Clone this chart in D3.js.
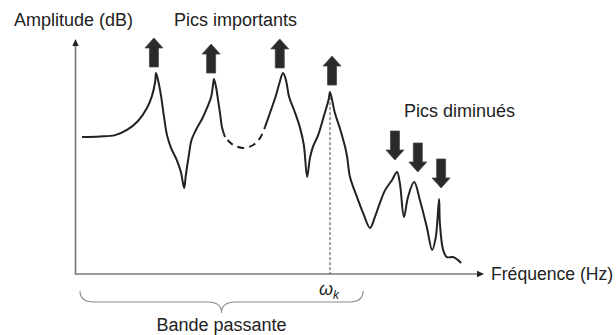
<!DOCTYPE html>
<html>
<head>
<meta charset="utf-8">
<script src="https://cdn.jsdelivr.net/npm/d3@7"></script>
<style>
  html, body { margin: 0; padding: 0; background: #fff; }
  svg { display: block; }
  text { font-family: "Liberation Sans", Arial, sans-serif; fill: #222; }
</style>
</head>
<body>
<svg id="chart" width="616" height="335"></svg>
<script>
// ---- data (frequency units 0..100, amplitude units 0..100) ----
const seg1Freq = [1.6, 6.0, 9.7, 12.6, 15.3, 17.5, 18.7, 19.5, 19.7, 20.2, 20.9, 21.6, 22.4, 23.4, 24.8, 25.8, 26.6, 27.0, 27.7, 28.4, 29.6, 31.1, 32.3, 33.2, 33.7, 33.9, 34.4, 34.9, 35.4, 35.9, 36.6];
const seg1Amp  = [58.3, 58.5, 59.1, 61.3, 65.1, 70.6, 75.7, 81.7, 85.5, 82.6, 76.2, 67.7, 59.1, 53.6, 48.5, 43.4, 36.6, 42.0, 50.0, 57.0, 61.7, 66.4, 71.1, 75.3, 80.9, 83.0, 79.6, 74.0, 68.1, 62.1, 58.3];

const dashFreq = [36.6, 38.3, 41.0, 43.5, 45.2, 46.4];
const dashAmp  = [58.3, 55.3, 53.6, 54.9, 57.9, 62.6];

const seg2Freq = [46.4, 47.6, 49.1, 50.0, 50.8, 51.5, 52.3, 53.5, 54.9, 55.9, 56.7, 57.4, 58.1, 59.4, 60.8, 62.0, 62.3, 63.5, 64.7, 66.0, 66.5, 67.2, 68.9, 70.4, 72.1, 73.3, 74.5, 75.8, 77.5, 78.7, 79.4, 80.4, 81.4, 82.9, 84.3, 86.0, 87.3, 88.2, 89.0, 89.2, 90.0, 90.9, 92.4, 93.6, 94.4];
const seg2Amp  = [62.6, 68.5, 76.2, 81.7, 85.5, 82.6, 75.3, 69.8, 62.6, 54.9, 41.3, 49.4, 54.0, 59.1, 67.2, 74.5, 77.4, 68.5, 62.1, 54.0, 49.8, 41.3, 32.8, 26.0, 19.6, 24.3, 30.2, 35.7, 40.0, 43.4, 38.7, 24.3, 32.8, 39.1, 31.5, 20.0, 10.2, 15.7, 31.9, 21.7, 10.2, 7.2, 7.2, 6.0, 4.7];

// arrows: centre frequency, amplitude of the end nearest the peak, direction
const upArrowFreq = [19.2, 33.2, 50.0, 62.8];
const upArrowAmp  = [88.1, 85.5, 87.7, 80.4];
const downArrowFreq = [78.2, 83.8, 89.5];
const downArrowAmp  = [48.5, 43.4, 36.6];

const omegaK = 62.3;          // frequency of the marked peak
const omegaKAmp = 77.4;
const bandStart = 1.1, bandEnd = 70.4;

const labels = {
  yTitle: "Amplitude (dB)",
  xTitle: "Fréquence (Hz)",
  upNote: "Pics importants",
  downNote: "Pics diminués",
  band: "Bande passante"
};

// ---- drawing ----
const svg = d3.select("#chart");
const x = d3.scaleLinear().domain([0, 100]).range([75.5, 484]);
const y = d3.scaleLinear().domain([0, 100]).range([274, 39]);

const line = d3.line()
  .x(d => x(d[0])).y(d => y(d[1]))
  .curve(d3.curveCatmullRom.alpha(0.5));

const zip = (a, b) => a.map((v, i) => [v, b[i]]);

// axes
const axisColor = "#7a7a7a";
svg.append("line").attr("x1", x(0)).attr("x2", x(100) - 5)
  .attr("y1", y(0)).attr("y2", y(0))
  .attr("stroke", axisColor).attr("stroke-width", 1.7);
svg.append("line").attr("x1", x(0)).attr("x2", x(0))
  .attr("y1", y(0) + 0.8).attr("y2", y(100) + 5)
  .attr("stroke", axisColor).attr("stroke-width", 1.7);
// axis arrowheads
svg.append("path")
  .attr("d", `M${x(100)},${y(0)} L${x(100) - 7},${y(0) - 3.2} L${x(100) - 7},${y(0) + 3.2} Z`)
  .attr("fill", "#222");
svg.append("path")
  .attr("d", `M${x(0)},${y(100)} L${x(0) - 3.2},${y(100) + 7} L${x(0) + 3.2},${y(100) + 7} Z`)
  .attr("fill", "#222");

// omega_k dashed line
svg.append("line")
  .attr("x1", x(omegaK)).attr("x2", x(omegaK))
  .attr("y1", y(omegaKAmp)).attr("y2", y(0))
  .attr("stroke", "#333").attr("stroke-width", 0.9)
  .attr("stroke-dasharray", "3,2");

// curve
const curveStyle = sel => sel.attr("fill", "none").attr("stroke", "#222")
  .attr("stroke-width", 2).attr("stroke-linejoin", "round").attr("stroke-linecap", "butt");
svg.append("path").datum(zip(seg1Freq, seg1Amp)).attr("d", line).call(curveStyle);
svg.append("path").datum(zip(seg2Freq, seg2Amp)).attr("d", line).call(curveStyle);
svg.append("path").datum(zip(dashFreq, dashAmp)).attr("d", line).call(curveStyle)
  .attr("stroke-dasharray", "7,5").attr("stroke-dashoffset", -4);

// block arrows
const arrowLen = 29, headH = 10, headW = 18, shaftW = 9;
function blockArrow(cx, endY, dir) {
  // dir = -1 : up arrow whose base is at endY ; dir = +1 : down arrow whose tip is at endY
  const hw = headW / 2, sw = shaftW / 2;
  if (dir < 0) {
    const b = endY, t = endY - arrowLen, hb = t + headH;
    return `M${cx - sw},${b} L${cx - sw},${hb} L${cx - hw},${hb} L${cx},${t} L${cx + hw},${hb} L${cx + sw},${hb} L${cx + sw},${b} Z`;
  } else {
    const tip = endY, t = endY - arrowLen, hb = tip - headH;
    return `M${cx - sw},${t} L${cx - sw},${hb} L${cx - hw},${hb} L${cx},${tip} L${cx + hw},${hb} L${cx + sw},${hb} L${cx + sw},${t} Z`;
  }
}
const arrowStyle = sel => sel.attr("fill", "#2a2a2a").attr("stroke", "#4a4a4a").attr("stroke-width", 0.8);
svg.selectAll(".up").data(zip(upArrowFreq, upArrowAmp)).enter().append("path")
  .attr("d", d => blockArrow(x(d[0]), y(d[1]), -1)).call(arrowStyle);
svg.selectAll(".down").data(zip(downArrowFreq, downArrowAmp)).enter().append("path")
  .attr("d", d => blockArrow(x(d[0]), y(d[1]), 1)).call(arrowStyle);

// brace (Bande passante)
const bx0 = x(bandStart), bx1 = x(bandEnd), bm = (bx0 + bx1) / 2;
const by0 = 291, by1 = 302, by2 = 313;
svg.append("path")
  .attr("d", `M${bx0},${by0} Q${bx0},${by1} ${bx0 + 14},${by1} L${bm - 14},${by1} Q${bm},${by1} ${bm},${by2} Q${bm},${by1} ${bm + 14},${by1} L${bx1 - 14},${by1} Q${bx1},${by1} ${bx1},${by0}`)
  .attr("fill", "none").attr("stroke", "#8a8a8a").attr("stroke-width", 1.1);

// texts
const fs = 18;
svg.append("text").attr("x", 14).attr("y", 26).attr("font-size", fs).text(labels.yTitle);
svg.append("text").attr("x", 174).attr("y", 26).attr("font-size", fs).text(labels.upNote);
svg.append("text").attr("x", 404).attr("y", 117).attr("font-size", fs).text(labels.downNote);
svg.append("text").attr("x", 491).attr("y", 280).attr("font-size", 17.6).text(labels.xTitle);
svg.append("text").attr("x", bm).attr("y", 331).attr("text-anchor", "middle").attr("font-size", fs).text(labels.band);
const om = svg.append("text").attr("x", x(omegaK) - 11).attr("y", 295).attr("font-size", 18).attr("font-style", "italic");
om.append("tspan").text("ω");
om.append("tspan").attr("font-size", 12).attr("dy", 4).text("k");
</script>
</body>
</html>
